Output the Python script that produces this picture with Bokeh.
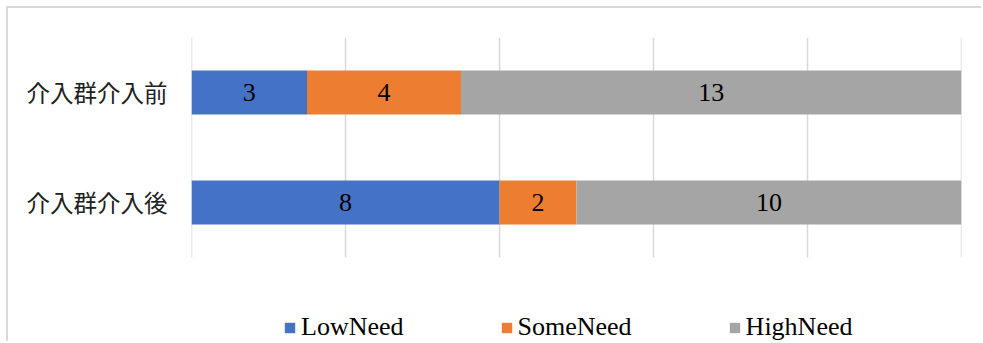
from bokeh.plotting import figure
from bokeh.models import (Legend, LegendItem, ColumnDataSource, FixedTicker)
from bokeh.core.properties import value
from bokeh.embed import file_html
from bokeh.resources import INLINE

# Data
groups = ["介入群介入前", "介入群介入後"]
series = ["LowNeed", "SomeNeed", "HighNeed"]
low_need = [3, 8]
some_need = [4, 2]
high_need = [13, 10]
colors = ["#4472C4", "#ED7D31", "#A5A5A5"]
x_ticks = [0, 4, 8, 12, 16, 20]

SERIF = "Liberation Serif"
CJK = "Noto Sans CJK JP"

# first group on top: row positions counted from the bottom
rows = [len(groups) - 1 - i for i in range(len(groups))]

source = ColumnDataSource(dict(row=rows, LowNeed=low_need,
                               SomeNeed=some_need, HighNeed=high_need))

# the plotting area also holds the legend strip under the bars
p = figure(
    width=975, height=335,
    x_range=(0, 20), y_range=(-1.282, 1.5),
    output_backend="svg", toolbar_location=None,
    min_border_left=183, min_border_right=22,
    min_border_top=29, min_border_bottom=0,
)
p.margin = (6, 0, 0, 6)
p.styles = {"border-left": "2px solid #d9d9d9", "border-top": "2px solid #d9d9d9"}

# vertical gridlines spanning the category band only
p.xgrid.visible = False
p.ygrid.visible = False
p.segment(x0=x_ticks, x1=x_ticks, y0=-0.5, y1=len(groups) - 0.5,
          line_color="#d9d9d9", line_width=1.5)

renderers = p.hbar_stack(series, y="row", height=0.4, color=colors,
                         line_color=None, source=source)

# value labels centred in each segment
starts = [0, 0]
for name, vals in zip(series, [low_need, some_need, high_need]):
    mids = [s + v / 2 for s, v in zip(starts, vals)]
    p.text(x=mids, y=rows, text=[str(v) for v in vals],
           text_font=value(SERIF), text_font_size="26px", text_color="#000000",
           text_align="center", text_baseline="middle")
    starts = [s + v for s, v in zip(starts, vals)]

p.xaxis.visible = False

p.yaxis.ticker = FixedTicker(ticks=rows)
p.yaxis.major_label_overrides = {r: g for r, g in zip(rows, groups)}
p.yaxis.axis_line_color = None
p.yaxis.major_tick_line_color = None
p.yaxis.minor_tick_line_color = None
p.yaxis.major_tick_out = 0
p.yaxis.major_tick_in = 0
p.yaxis.major_label_standoff = 24
p.yaxis.major_label_text_font = CJK
p.yaxis.major_label_text_font_size = "23.5px"
p.yaxis.major_label_text_color = "#202020"
p.outline_line_color = None

legend = Legend(
    items=[LegendItem(label=s, renderers=[r]) for s, r in zip(series, renderers)],
    orientation="horizontal", location=(92, 1),
    glyph_width=13, glyph_height=13, label_standoff=5, spacing=96,
    padding=0, margin=0, border_line_color=None, background_fill_alpha=0,
    label_text_font=SERIF, label_text_font_size="26px", label_text_color="#000000",
)
p.add_layout(legend, "center")

open("out.html", "w").write(file_html(p, INLINE))
